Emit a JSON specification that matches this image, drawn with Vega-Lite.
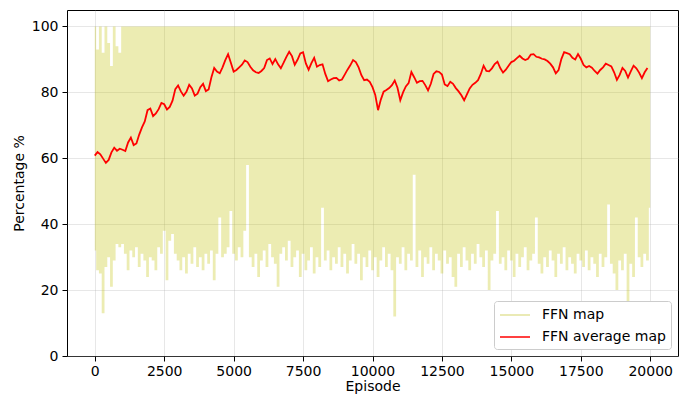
{
"$schema": "https://vega.github.io/schema/vega-lite/v6.json",
"width": 611, "height": 346,
"autosize": {"type": "none"},
"padding": {"left": 67, "top": 10, "right": 10, "bottom": 39},
"config": {
"font": "DejaVu Sans",
"view": {"stroke": "#000000", "strokeWidth": 1},
"axis": {"labelFontSize": 14, "titleFontSize": 14, "titleFontWeight": "normal", "labelColor": "#000000", "titleColor": "#000000", "tickColor": "#000000", "domain": false, "tickSize": 5, "gridColor": "#b0b0b0", "gridOpacity": 0.3, "labelFont": "DejaVu Sans", "titleFont": "DejaVu Sans"},
"legend": {"orient": "bottom-right", "offset": 7, "padding": 5, "strokeColor": "#cccccc", "fillColor": "#ffffff", "cornerRadius": 3, "symbolType": "M-1,0H2.75", "symbolStrokeWidth": 1.5, "symbolSize": 256, "labelFontSize": 14, "labelFont": "DejaVu Sans", "labelColor": "#000000", "rowPadding": 6, "labelOffset": 25}
},
"datasets": {
"ffn": [
{"e":0,"lo":32,"hi":100},{"e":100,"lo":26,"hi":93},{"e":200,"lo":25,"hi":100},{"e":300,"lo":13,"hi":92},{"e":400,"lo":27,"hi":100},{"e":500,"lo":30,"hi":95},{"e":600,"lo":21,"hi":88},{"e":700,"lo":29,"hi":100},{"e":800,"lo":34,"hi":94},{"e":900,"lo":33,"hi":92},
{"e":1000,"lo":34,"hi":100},{"e":1100,"lo":31,"hi":100},{"e":1200,"lo":26,"hi":100},{"e":1300,"lo":32,"hi":100},{"e":1400,"lo":30,"hi":100},{"e":1500,"lo":33,"hi":100},{"e":1600,"lo":27,"hi":100},{"e":1700,"lo":31,"hi":100},{"e":1800,"lo":29,"hi":100},{"e":1900,"lo":24,"hi":100},
{"e":2000,"lo":30,"hi":100},{"e":2100,"lo":29,"hi":100},{"e":2200,"lo":26,"hi":100},{"e":2300,"lo":33,"hi":100},{"e":2400,"lo":31,"hi":100},{"e":2500,"lo":38,"hi":100},{"e":2600,"lo":23,"hi":100},{"e":2700,"lo":35,"hi":100},{"e":2800,"lo":37,"hi":100},{"e":2900,"lo":31,"hi":100},
{"e":3000,"lo":29,"hi":100},{"e":3100,"lo":26,"hi":100},{"e":3200,"lo":30,"hi":100},{"e":3300,"lo":25,"hi":100},{"e":3400,"lo":31,"hi":100},{"e":3500,"lo":28,"hi":100},{"e":3600,"lo":33,"hi":100},{"e":3700,"lo":27,"hi":100},{"e":3800,"lo":30,"hi":100},{"e":3900,"lo":26,"hi":100},
{"e":4000,"lo":31,"hi":100},{"e":4100,"lo":28,"hi":100},{"e":4200,"lo":32,"hi":100},{"e":4300,"lo":23,"hi":100},{"e":4400,"lo":31,"hi":100},{"e":4500,"lo":42,"hi":100},{"e":4600,"lo":30,"hi":100},{"e":4700,"lo":31,"hi":100},{"e":4800,"lo":33,"hi":100},{"e":4900,"lo":44,"hi":100},
{"e":5000,"lo":31,"hi":100},{"e":5100,"lo":29,"hi":100},{"e":5200,"lo":33,"hi":100},{"e":5300,"lo":30,"hi":100},{"e":5400,"lo":38,"hi":100},{"e":5500,"lo":58,"hi":100},{"e":5600,"lo":30,"hi":100},{"e":5700,"lo":27,"hi":100},{"e":5800,"lo":31,"hi":100},{"e":5900,"lo":24,"hi":100},
{"e":6000,"lo":29,"hi":100},{"e":6100,"lo":32,"hi":100},{"e":6200,"lo":27,"hi":100},{"e":6300,"lo":34,"hi":100},{"e":6400,"lo":30,"hi":100},{"e":6500,"lo":28,"hi":100},{"e":6600,"lo":21,"hi":100},{"e":6700,"lo":31,"hi":100},{"e":6800,"lo":33,"hi":100},{"e":6900,"lo":29,"hi":100},
{"e":7000,"lo":35,"hi":100},{"e":7100,"lo":27,"hi":100},{"e":7200,"lo":30,"hi":100},{"e":7300,"lo":32,"hi":100},{"e":7400,"lo":24,"hi":100},{"e":7500,"lo":31,"hi":100},{"e":7600,"lo":26,"hi":100},{"e":7700,"lo":29,"hi":100},{"e":7800,"lo":33,"hi":100},{"e":7900,"lo":25,"hi":100},
{"e":8000,"lo":30,"hi":100},{"e":8100,"lo":27,"hi":100},{"e":8200,"lo":45,"hi":100},{"e":8300,"lo":29,"hi":100},{"e":8400,"lo":32,"hi":100},{"e":8500,"lo":26,"hi":100},{"e":8600,"lo":30,"hi":100},{"e":8700,"lo":28,"hi":100},{"e":8800,"lo":33,"hi":100},{"e":8900,"lo":27,"hi":100},
{"e":9000,"lo":31,"hi":100},{"e":9100,"lo":25,"hi":100},{"e":9200,"lo":29,"hi":100},{"e":9300,"lo":34,"hi":100},{"e":9400,"lo":28,"hi":100},{"e":9500,"lo":31,"hi":100},{"e":9600,"lo":23,"hi":100},{"e":9700,"lo":30,"hi":100},{"e":9800,"lo":27,"hi":100},{"e":9900,"lo":32,"hi":100},
{"e":10000,"lo":26,"hi":100},{"e":10100,"lo":30,"hi":100},{"e":10200,"lo":24,"hi":100},{"e":10300,"lo":29,"hi":100},{"e":10400,"lo":33,"hi":100},{"e":10500,"lo":27,"hi":100},{"e":10600,"lo":31,"hi":100},{"e":10700,"lo":26,"hi":100},{"e":10800,"lo":12,"hi":100},{"e":10900,"lo":30,"hi":100},
{"e":11000,"lo":28,"hi":100},{"e":11100,"lo":33,"hi":100},{"e":11200,"lo":26,"hi":100},{"e":11300,"lo":31,"hi":100},{"e":11400,"lo":29,"hi":100},{"e":11500,"lo":55,"hi":100},{"e":11600,"lo":27,"hi":100},{"e":11700,"lo":32,"hi":100},{"e":11800,"lo":24,"hi":100},{"e":11900,"lo":30,"hi":100},
{"e":12000,"lo":28,"hi":100},{"e":12100,"lo":33,"hi":100},{"e":12200,"lo":26,"hi":100},{"e":12300,"lo":31,"hi":100},{"e":12400,"lo":29,"hi":100},{"e":12500,"lo":25,"hi":100},{"e":12600,"lo":32,"hi":100},{"e":12700,"lo":28,"hi":100},{"e":12800,"lo":30,"hi":100},{"e":12900,"lo":24,"hi":100},
{"e":13000,"lo":21,"hi":100},{"e":13100,"lo":31,"hi":100},{"e":13200,"lo":27,"hi":100},{"e":13300,"lo":33,"hi":100},{"e":13400,"lo":29,"hi":100},{"e":13500,"lo":26,"hi":100},{"e":13600,"lo":31,"hi":100},{"e":13700,"lo":28,"hi":100},{"e":13800,"lo":34,"hi":100},{"e":13900,"lo":30,"hi":100},
{"e":14000,"lo":27,"hi":100},{"e":14100,"lo":32,"hi":100},{"e":14200,"lo":20,"hi":100},{"e":14300,"lo":29,"hi":100},{"e":14400,"lo":31,"hi":100},{"e":14500,"lo":44,"hi":100},{"e":14600,"lo":28,"hi":100},{"e":14700,"lo":30,"hi":100},{"e":14800,"lo":26,"hi":100},{"e":14900,"lo":32,"hi":100},
{"e":15000,"lo":29,"hi":100},{"e":15100,"lo":24,"hi":100},{"e":15200,"lo":31,"hi":100},{"e":15300,"lo":27,"hi":100},{"e":15400,"lo":30,"hi":100},{"e":15500,"lo":33,"hi":100},{"e":15600,"lo":26,"hi":100},{"e":15700,"lo":29,"hi":100},{"e":15800,"lo":31,"hi":100},{"e":15900,"lo":42,"hi":100},
{"e":16000,"lo":28,"hi":100},{"e":16100,"lo":25,"hi":100},{"e":16200,"lo":30,"hi":100},{"e":16300,"lo":27,"hi":100},{"e":16400,"lo":32,"hi":100},{"e":16500,"lo":29,"hi":100},{"e":16600,"lo":24,"hi":100},{"e":16700,"lo":31,"hi":100},{"e":16800,"lo":28,"hi":100},{"e":16900,"lo":33,"hi":100},
{"e":17000,"lo":26,"hi":100},{"e":17100,"lo":30,"hi":100},{"e":17200,"lo":28,"hi":100},{"e":17300,"lo":25,"hi":100},{"e":17400,"lo":31,"hi":100},{"e":17500,"lo":29,"hi":100},{"e":17600,"lo":27,"hi":100},{"e":17700,"lo":32,"hi":100},{"e":17800,"lo":26,"hi":100},{"e":17900,"lo":30,"hi":100},
{"e":18000,"lo":28,"hi":100},{"e":18100,"lo":24,"hi":100},{"e":18200,"lo":31,"hi":100},{"e":18300,"lo":27,"hi":100},{"e":18400,"lo":30,"hi":100},{"e":18500,"lo":46,"hi":100},{"e":18600,"lo":28,"hi":100},{"e":18700,"lo":25,"hi":100},{"e":18800,"lo":20,"hi":100},{"e":18900,"lo":29,"hi":100},
{"e":19000,"lo":26,"hi":100},{"e":19100,"lo":31,"hi":100},{"e":19200,"lo":16,"hi":100},{"e":19300,"lo":28,"hi":100},{"e":19400,"lo":24,"hi":100},{"e":19500,"lo":42,"hi":100},{"e":19600,"lo":30,"hi":100},{"e":19700,"lo":27,"hi":100},{"e":19800,"lo":31,"hi":100},{"e":19900,"lo":29,"hi":100},
{"e":20000,"lo":45,"hi":100}
],
"avg": [
{"e":0,"v":60.8},{"e":100,"v":61.9},{"e":200,"v":61.2},{"e":300,"v":59.9},{"e":400,"v":58.6},{"e":500,"v":59.5},{"e":600,"v":61.8},{"e":700,"v":63.2},{"e":800,"v":62.3},{"e":900,"v":62.9},
{"e":1000,"v":62.6},{"e":1100,"v":62.2},{"e":1200,"v":64.8},{"e":1300,"v":66.3},{"e":1400,"v":64.0},{"e":1500,"v":64.5},{"e":1600,"v":67.2},{"e":1700,"v":69.4},{"e":1800,"v":71.2},{"e":1900,"v":74.6},
{"e":2000,"v":75.1},{"e":2100,"v":72.8},{"e":2200,"v":73.6},{"e":2300,"v":74.9},{"e":2400,"v":76.8},{"e":2500,"v":76.4},{"e":2600,"v":74.8},{"e":2700,"v":75.6},{"e":2800,"v":77.5},{"e":2900,"v":81.0},
{"e":3000,"v":82.1},{"e":3100,"v":80.3},{"e":3200,"v":79.0},{"e":3300,"v":80.2},{"e":3400,"v":82.3},{"e":3500,"v":81.2},{"e":3600,"v":79.0},{"e":3700,"v":79.6},{"e":3800,"v":81.6},{"e":3900,"v":82.6},
{"e":4000,"v":80.4},{"e":4100,"v":80.9},{"e":4200,"v":84.6},{"e":4300,"v":87.4},{"e":4400,"v":86.3},{"e":4500,"v":85.8},{"e":4600,"v":87.6},{"e":4700,"v":89.8},{"e":4800,"v":91.6},{"e":4900,"v":89.0},
{"e":5000,"v":86.3},{"e":5100,"v":86.8},{"e":5200,"v":87.6},{"e":5300,"v":88.4},{"e":5400,"v":89.7},{"e":5500,"v":89.2},{"e":5600,"v":87.8},{"e":5700,"v":86.7},{"e":5800,"v":86.1},{"e":5900,"v":85.9},
{"e":6000,"v":86.5},{"e":6100,"v":87.4},{"e":6200,"v":89.8},{"e":6300,"v":90.3},{"e":6400,"v":88.6},{"e":6500,"v":90.1},{"e":6600,"v":88.5},{"e":6700,"v":87.3},{"e":6800,"v":89.0},{"e":6900,"v":90.8},
{"e":7000,"v":92.3},{"e":7100,"v":91.0},{"e":7200,"v":88.4},{"e":7300,"v":89.9},{"e":7400,"v":91.8},{"e":7500,"v":92.2},{"e":7600,"v":88.8},{"e":7700,"v":86.9},{"e":7800,"v":88.9},{"e":7900,"v":90.5},
{"e":8000,"v":87.8},{"e":8100,"v":88.3},{"e":8200,"v":88.5},{"e":8300,"v":85.6},{"e":8400,"v":83.4},{"e":8500,"v":83.9},{"e":8600,"v":84.3},{"e":8700,"v":84.4},{"e":8800,"v":83.6},{"e":8900,"v":83.9},
{"e":9000,"v":85.4},{"e":9100,"v":86.9},{"e":9200,"v":88.2},{"e":9300,"v":89.8},{"e":9400,"v":89.2},{"e":9500,"v":87.6},{"e":9600,"v":85.2},{"e":9700,"v":83.7},{"e":9800,"v":83.9},{"e":9900,"v":83.2},
{"e":10000,"v":81.6},{"e":10100,"v":79.2},{"e":10200,"v":74.6},{"e":10300,"v":77.8},{"e":10400,"v":80.2},{"e":10500,"v":80.7},{"e":10600,"v":81.3},{"e":10700,"v":82.2},{"e":10800,"v":83.6},{"e":10900,"v":81.4},
{"e":11000,"v":77.6},{"e":11100,"v":80.0},{"e":11200,"v":81.8},{"e":11300,"v":82.8},{"e":11400,"v":86.2},{"e":11500,"v":84.6},{"e":11600,"v":82.9},{"e":11700,"v":83.4},{"e":11800,"v":83.5},{"e":11900,"v":82.2},
{"e":12000,"v":80.6},{"e":12100,"v":82.6},{"e":12200,"v":85.6},{"e":12300,"v":86.4},{"e":12400,"v":86.2},{"e":12500,"v":85.4},{"e":12600,"v":82.4},{"e":12700,"v":81.9},{"e":12800,"v":83.2},{"e":12900,"v":82.6},
{"e":13000,"v":81.3},{"e":13100,"v":80.3},{"e":13200,"v":79.1},{"e":13300,"v":77.6},{"e":13400,"v":79.4},{"e":13500,"v":81.2},{"e":13600,"v":82.3},{"e":13700,"v":82.9},{"e":13800,"v":83.7},{"e":13900,"v":85.6},
{"e":14000,"v":88.1},{"e":14100,"v":86.5},{"e":14200,"v":86.4},{"e":14300,"v":87.3},{"e":14400,"v":88.6},{"e":14500,"v":89.3},{"e":14600,"v":87.4},{"e":14700,"v":86.0},{"e":14800,"v":86.9},{"e":14900,"v":88.1},
{"e":15000,"v":89.2},{"e":15100,"v":89.6},{"e":15200,"v":90.4},{"e":15300,"v":91.1},{"e":15400,"v":90.3},{"e":15500,"v":89.8},{"e":15600,"v":90.2},{"e":15700,"v":91.5},{"e":15800,"v":91.6},{"e":15900,"v":90.8},
{"e":16000,"v":90.6},{"e":16100,"v":90.2},{"e":16200,"v":90.0},{"e":16300,"v":89.5},{"e":16400,"v":88.7},{"e":16500,"v":87.6},{"e":16600,"v":85.8},{"e":16700,"v":86.8},{"e":16800,"v":90.1},{"e":16900,"v":92.2},
{"e":17000,"v":91.9},{"e":17100,"v":91.6},{"e":17200,"v":90.5},{"e":17300,"v":90.0},{"e":17400,"v":91.6},{"e":17500,"v":90.2},{"e":17600,"v":88.3},{"e":17700,"v":87.6},{"e":17800,"v":88.0},{"e":17900,"v":87.5},
{"e":18000,"v":86.5},{"e":18100,"v":85.7},{"e":18200,"v":86.8},{"e":18300,"v":87.6},{"e":18400,"v":88.7},{"e":18500,"v":88.3},{"e":18600,"v":87.9},{"e":18700,"v":86.1},{"e":18800,"v":83.8},{"e":18900,"v":85.3},
{"e":19000,"v":87.4},{"e":19100,"v":86.5},{"e":19200,"v":84.5},{"e":19300,"v":86.4},{"e":19400,"v":88.1},{"e":19500,"v":87.3},{"e":19600,"v":86.0},{"e":19700,"v":84.3},{"e":19800,"v":86.1},{"e":19900,"v":87.4}
]
},
"layer": [
{"data": {"name": "ffn"},
 "mark": {"type": "area", "interpolate": "step", "fill": "#bfbf00", "fillOpacity": 0.3},
 "encoding": {
  "x": {"field": "e", "type": "quantitative", "scale": {"domain": [-1000, 21000], "nice": false, "zero": false}, "axis": {"values": [0, 2500, 5000, 7500, 10000, 12500, 15000, 17500, 20000], "format": "d", "title": "Episode", "labelPadding": 3, "titlePadding": 1, "labelFlush": false}},
  "y": {"field": "lo", "type": "quantitative", "scale": {"domain": [0, 105], "nice": false, "zero": false}, "axis": {"values": [0, 20, 40, 60, 80, 100], "title": "Percentage %", "labelPadding": 4, "titlePadding": 5}},
  "y2": {"field": "hi"}
 }},
{"data": {"name": "avg"},
 "mark": {"type": "line", "strokeWidth": 1.8},
 "encoding": {
  "x": {"field": "e", "type": "quantitative"},
  "y": {"field": "v", "type": "quantitative"},
  "stroke": {"datum": "FFN average map", "type": "nominal", "scale": {"domain": ["FFN map", "FFN average map"], "range": ["#e3e39c", "#ff0000"]}, "legend": {"title": null}}
 }}
]
}
